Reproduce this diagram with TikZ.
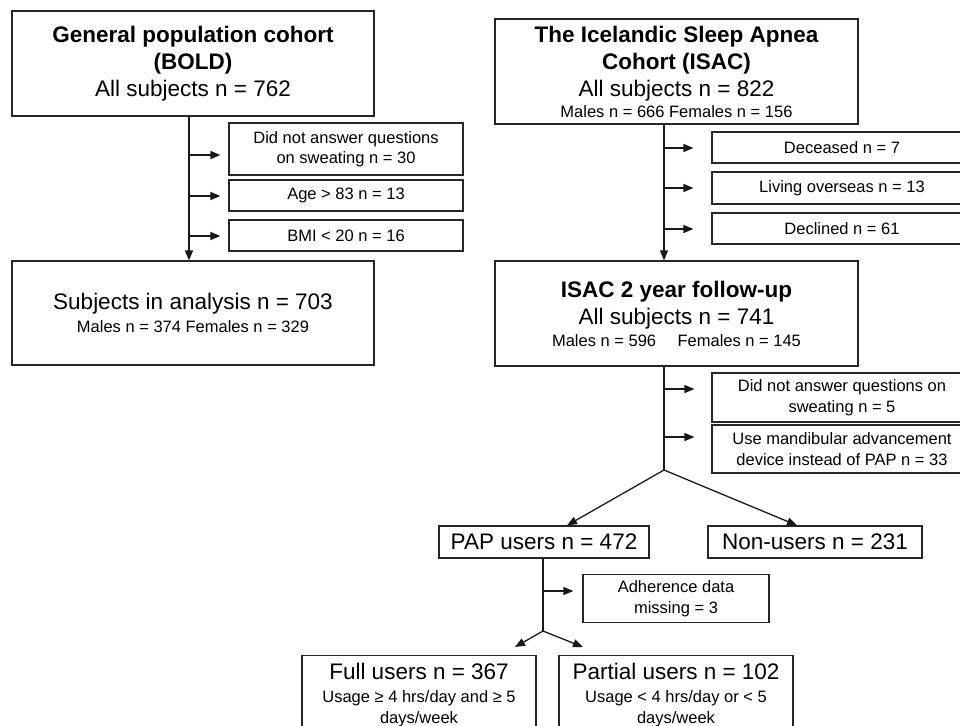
\documentclass[tikz,border=0pt]{standalone}
\usepackage{fontspec}
\setmainfont{Liberation Sans}
\usetikzlibrary{arrows.meta}
\newcommand\bigf{\fontsize{22.5}{27}\selectfont}
\newcommand\smf{\fontsize{16.5}{20.5}\selectfont}
\tikzset{
  box/.style={draw=black!85, line width=1.2pt, rectangle, inner sep=0pt, align=center, font=\bigf},
  sbox/.style={box, font=\smf},
  ln/.style={draw=black!90, line width=1.3pt},
  arr/.style={ln, -{Triangle[length=10pt,width=8pt]}},
}
\begin{document}
\begin{tikzpicture}[x=1pt,y=-1pt]
\useasboundingbox (0,0) rectangle (960,725);
\fill[white] (0,0) rectangle (960,725);
\clip (0,0) rectangle (960,725);

% ---------- left column ----------
\node[box, minimum width=362pt, minimum height=105pt] (bold) at (193,63.5)
  {\bfseries General population cohort\\ \bfseries (BOLD)\\ All subjects n = 762};
\node[sbox, minimum width=234pt, minimum height=52pt] (ex1) at (346,149)
  {Did not answer questions\\ on sweating n = 30};
\node[sbox, minimum width=234pt, minimum height=31pt] (ex2) at (346,195.5)
  {Age > 83 n = 13};
\node[sbox, minimum width=234pt, minimum height=31pt] (ex3) at (346,235.5)
  {BMI < 20 n = 16};
\node[box, minimum width=362pt, minimum height=104pt] (anal) at (193,313)
  {Subjects in analysis n = 703\\[-4pt] \smf Males n = 374 Females n = 329};

\coordinate (bl) at (189,116);
\draw[arr] (bl) -- (bl |- anal.north);
\coordinate (b1) at (189,155);
\coordinate (b2) at (189,196);
\coordinate (b3) at (189,236);
\draw[arr, shorten >=8pt] (b1) -- (b1 -| ex1.west);
\draw[arr, shorten >=8pt] (b2) -- (b2 -| ex2.west);
\draw[arr, shorten >=8pt] (b3) -- (b3 -| ex3.west);

% ---------- right column ----------
\node[box, minimum width=363pt, minimum height=105pt] (isac) at (676.5,71.5)
  {\bfseries The Icelandic Sleep Apnea\\ \bfseries Cohort (ISAC)\\ All subjects n = 822\\[-6pt] \smf Males n = 666 Females n = 156};
\node[sbox, minimum width=260pt, minimum height=31pt] (dec) at (842,147.5)
  {Deceased n = 7};
\node[sbox, minimum width=260pt, minimum height=32pt] (liv) at (842,188)
  {Living overseas n = 13};
\node[sbox, minimum width=260pt, minimum height=31pt] (decl) at (842,228.5)
  {Declined n = 61};
\node[box, minimum width=363pt, minimum height=105pt] (fu) at (676.5,313.5)
  {\bfseries ISAC 2 year follow-up\\ All subjects n = 741\\[-5pt] \smf Males n = 596\hspace{1.3em}Females n = 145};

\coordinate (rl) at (664,124);
\draw[arr] (rl) -- (rl |- fu.north);
\coordinate (r1) at (664,148);
\coordinate (r2) at (664,188);
\coordinate (r3) at (664,229);
\draw[arr, shorten >=18pt] (r1) -- (r1 -| dec.west);
\draw[arr, shorten >=18pt] (r2) -- (r2 -| liv.west);
\draw[arr, shorten >=18pt] (r3) -- (r3 -| decl.west);

\node[sbox, minimum width=260pt, minimum height=49pt] (sw) at (842,397.5)
  {Did not answer questions on\\ sweating n = 5};
\node[sbox, minimum width=260pt, minimum height=48pt] (mad) at (842,449)
  {Use mandibular advancement\\ device instead of PAP n = 33};

\coordinate (fb) at (664,470);
\draw[ln] (fu.south -| fb) -- (fb);
\coordinate (r4) at (664,389);
\coordinate (r5) at (664,437);
\draw[arr, shorten >=17pt] (r4) -- (r4 -| sw.west);
\draw[arr, shorten >=17pt] (r5) -- (r5 -| mad.west);

\node[box, minimum width=210pt, minimum height=32pt] (pap) at (544,542)
  {PAP users n = 472};
\node[box, minimum width=214pt, minimum height=32pt] (non) at (815,542)
  {Non-users n = 231};
\draw[arr] (fb) -- ([xshift=23pt]pap.north);
\draw[arr] (fb) -- ([xshift=-18pt]non.north);

\node[sbox, minimum width=186pt, minimum height=48pt] (adh) at (676,598.5)
  {Adherence data\\ missing = 3};

\coordinate (pb) at (543,631);
\draw[ln] (pap.south -| pb) -- (pb);
\coordinate (p1) at (543,591);
\draw[arr, shorten >=9pt] (p1) -- (p1 -| adh.west);

\node[box, minimum width=234pt, inner ysep=8pt, anchor=north] (full) at (419,655)
  {Full users n = 367\\[-4pt] \smf Usage ≥ 4 hrs/day and ≥ 5\\[-6pt] \smf days/week};
\node[box, minimum width=234pt, inner ysep=8pt, anchor=north] (part) at (676,655)
  {Partial users n = 102\\[-4pt] \smf Usage < 4 hrs/day or < 5\\[-6pt] \smf days/week};
\draw[arr] (pb) -- ([xshift=96pt,yshift=8pt]full.north);
\draw[arr] (pb) -- ([xshift=-93pt,yshift=8pt]part.north);
\end{tikzpicture}
\end{document}
